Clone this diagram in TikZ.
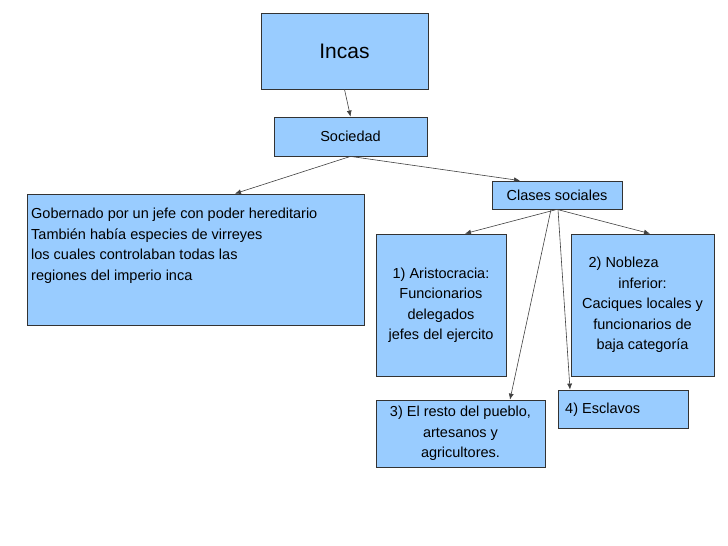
\documentclass[tikz,border=0pt]{standalone}
\usepackage{fontspec}
\setmainfont{Liberation Sans}
\usetikzlibrary{positioning, arrows.meta}
\definecolor{boxblue}{HTML}{99CCFF}
\tikzset{
  box/.style={draw=black!80, fill=boxblue, line width=0.8pt, inner sep=0pt},
  txt/.style={font=\fontsize{14.5}{20.5}\selectfont, inner sep=0pt, align=center},
  link/.style={draw=black!75, line width=0.6pt, -{Latex[length=6pt,width=5pt]}}
}
\begin{document}
\begin{tikzpicture}[x=1pt,y=-1pt]
  \useasboundingbox (0,0) rectangle (728,546);

  % boxes
  \node[box, minimum width=167pt, minimum height=76pt, font=\fontsize{21}{25}\selectfont] (incas) at (344.5,51) {Incas};
  \node[box, minimum width=153pt, minimum height=39pt, txt] (soc) at (350.5,136.5) {Sociedad};
  \node[box, minimum width=130pt, minimum height=28pt, txt] (clases) at (557,195) {Clases sociales};
  \node[box, minimum width=337pt, minimum height=131pt] (gob) at (195.5,259.5) {};
  \node[txt, align=left, anchor=north west] (gobtxt) at (31,208) {Gobernado por un jefe con poder hereditario\\
    También había especies de virreyes\\los cuales controlaban todas las\\regiones del imperio inca};
  \node[box, minimum width=130pt, minimum height=142pt, txt] (aris) at (441,305) {1) Aristocracia:\\Funcionarios\\delegados\\jefes del ejercito};
  \node[box, minimum width=143pt, minimum height=142pt, txt] (nob) at (642.5,305) {2) Nobleza\hspace*{2.6em}\\inferior:\\Caciques locales y\\funcionarios de\\baja categoría};
  \node[box, minimum width=169pt, minimum height=67pt, txt] (resto) at (460.5,433.5) {3) El resto del pueblo,\\artesanos y\\agricultores.};
  \node[box, minimum width=130pt, minimum height=38pt] (escl) at (623,409) {};
  \node[txt, anchor=west] (escltxt) at (565,410) {4) Esclavos};

  % connectors
  \draw[link] (incas.south) -- (soc.north);
  \draw[link] (soc.south) -- (gob.north -| 235,0);
  \draw[link] (soc.south) -- (clases.north -| 520,0);
  \draw[link] (clases.south) -- (aris.north -| 465,0);
  \draw[link] (clases.south) -- (nob.north -| 650,0);
  \draw[link] ([xshift=-6pt]clases.south) -- (resto.north -| 510,0);
  \draw[link] ([xshift=1pt]clases.south) -- (escl.north -| 570,0);
\end{tikzpicture}
\end{document}
